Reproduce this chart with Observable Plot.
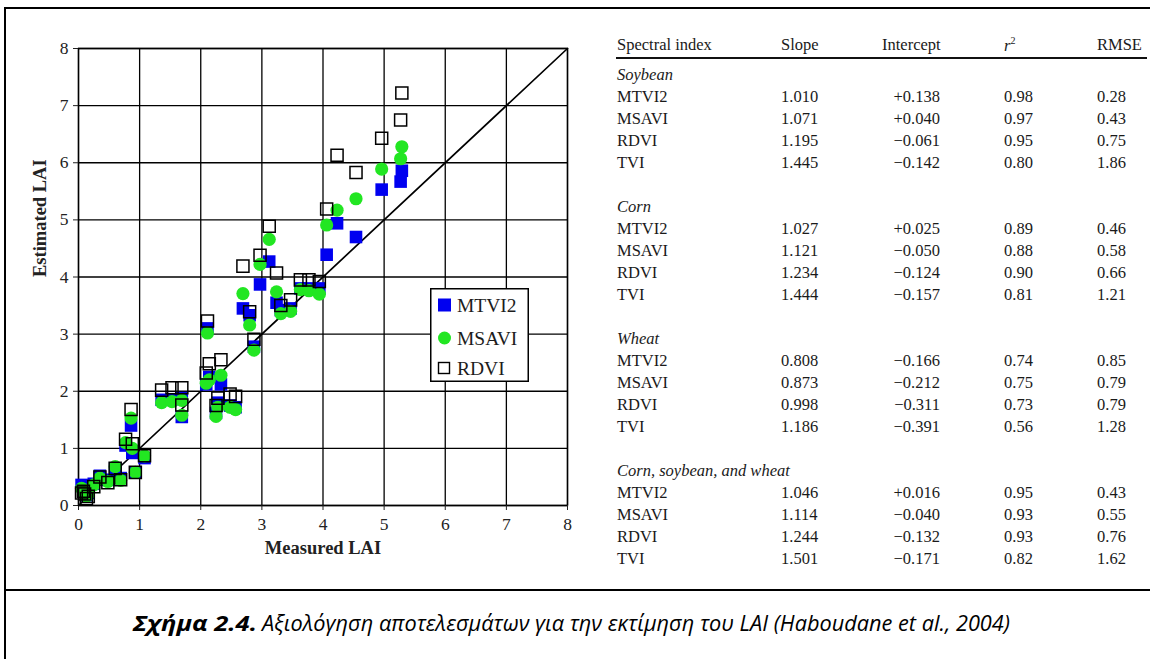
<!DOCTYPE html>
<html>
<head>
<meta charset="utf-8">
<script src="https://cdn.jsdelivr.net/npm/d3@7"></script>
<script src="https://cdn.jsdelivr.net/npm/@observablehq/plot@0.6"></script>
<style>
  html, body { margin: 0; padding: 0; background: #fff; }
  #fig { position: relative; width: 1150px; height: 659px; overflow: hidden; background: #fff; }
  #frame { position: absolute; left: 4px; top: 7px; width: 1160px; height: 670px; border: 2px solid #000; box-sizing: border-box; }
  #sep { position: absolute; left: 4px; top: 589px; width: 1160px; height: 2px; background: #000; }
  #chart { position: absolute; left: 0; top: 0; }
  #legend { position: absolute; left: 430px; top: 288px; }
  #table { position: absolute; left: 0; top: 0; width: 1150px; height: 580px;
           font-family: "Liberation Serif", "DejaVu Serif", serif; font-size: 16.5px; color: #1a1a1a; }
  #table .c { position: absolute; white-space: nowrap; line-height: 1; transform: translateY(-50%); }
  #table .g { font-style: italic; }
  #rule { position: absolute; left: 616px; top: 57px; width: 531px; height: 2.2px; background: #111; }
  .cap { position: absolute; top: 611px; white-space: nowrap; font-family: "Open Sans", sans-serif;
         font-style: italic; font-size: 22px; line-height: 1; color: #000; transform-origin: 0 50%; }
  #capLead { left: 133px; font-weight: bold; }
  #capText { left: 262px; }
</style>
</head>
<body>
<div id="fig">
  <div id="frame"></div>
  <div id="sep"></div>
  <div id="chart"></div>
  <div id="legend"></div>
  <div id="table"><div id="rule"></div></div>
  <div class="cap" id="capLead">Σχήμα 2.4.</div>
  <div class="cap" id="capText">Αξιολόγηση αποτελεσμάτων για την εκτίμηση του LAI (Haboudane et al., 2004)</div>
</div>
<script>
// Measured LAI of each sample and the LAI estimated from three spectral indices
const measuredLAI = [5.29, 5.27, 4.96, 4.54, 4.23, 4.06, 3.12, 2.97, 2.69, 3.24, 3.63, 3.77, 3.94, 3.47, 3.31,
  2.80, 2.11, 2.87, 2.33, 2.14, 2.09, 2.48, 2.57, 2.28, 2.25, 1.36, 1.53, 1.69, 1.69, 0.86, 0.77, 0.88, 1.08,
  0.93, 0.69, 0.48, 0.35, 0.60, 0.25, 0.08, 0.16, 0.10, 0.05, 0.13];
const estMTVI2 = [5.86, 5.67, 5.53, 4.70, 4.94, 4.39, 4.27, 3.87, 3.45, 3.55, 3.80, 3.80, 3.80, 3.45, 3.42,
  3.33, 3.10, 2.78, 2.12, 2.25, 2.12, 1.75, 1.72, 1.80, 1.62, 1.85, 1.86, 1.88, 1.55, 1.40, 1.05, 0.92, 0.83,
  0.58, 0.48, 0.45, 0.52, 0.64, 0.38, 0.33, 0.22, 0.28, 0.36, 0.18];
const estMSAVI = [6.28, 6.07, 5.89, 5.37, 5.17, 4.91, 4.66, 4.22, 3.71, 3.74, 3.78, 3.76, 3.70, 3.40, 3.36,
  3.16, 3.02, 2.72, 2.28, 2.20, 2.14, 1.72, 1.68, 1.72, 1.56, 1.80, 1.82, 1.84, 1.58, 1.53, 1.10, 1.00, 0.87,
  0.58, 0.44, 0.42, 0.48, 0.68, 0.36, 0.28, 0.20, 0.22, 0.30, 0.16];
const estRDVI = [7.22, 6.75, 6.43, 5.83, 6.13, 5.19, 4.89, 4.38, 4.19, 4.07, 3.95, 3.95, 3.92, 3.60, 3.50,
  3.39, 3.23, 2.91, 2.55, 2.48, 2.32, 1.95, 1.91, 1.88, 1.75, 2.02, 2.06, 2.06, 1.76, 1.68, 1.16, 1.08, 0.87,
  0.58, 0.45, 0.40, 0.50, 0.65, 0.33, 0.25, 0.16, 0.20, 0.22, 0.12];

const axisTicks = [0, 1, 2, 3, 4, 5, 6, 7, 8];
const identityLine = [0, 8];

const seriesNames = ["MTVI2", "MSAVI", "RDVI"];
const seriesColors = ["#0000f0", "#22e622", "none"];

// Regression table: groups, indices and their statistics
const tableHeader = ["Spectral index", "Slope", "Intercept", "r", "RMSE"];
const cropGroups = ["Soybean", "Corn", "Wheat", "Corn, soybean, and wheat"];
const indexNames = ["MTVI2", "MSAVI", "RDVI", "TVI"];
const slopeValues = [
  ["1.010", "1.071", "1.195", "1.445"],
  ["1.027", "1.121", "1.234", "1.444"],
  ["0.808", "0.873", "0.998", "1.186"],
  ["1.046", "1.114", "1.244", "1.501"]];
const interceptValues = [
  ["+0.138", "+0.040", "−0.061", "−0.142"],
  ["+0.025", "−0.050", "−0.124", "−0.157"],
  ["−0.166", "−0.212", "−0.311", "−0.391"],
  ["+0.016", "−0.040", "−0.132", "−0.171"]];
const r2Values = [
  ["0.98", "0.97", "0.95", "0.80"],
  ["0.89", "0.88", "0.90", "0.81"],
  ["0.74", "0.75", "0.73", "0.56"],
  ["0.95", "0.93", "0.93", "0.82"]];
const rmseValues = [
  ["0.28", "0.43", "0.75", "1.86"],
  ["0.46", "0.58", "0.66", "1.21"],
  ["0.85", "0.79", "0.79", "1.28"],
  ["0.43", "0.55", "0.76", "1.62"]];

// ---- scatter plot ----
const samples = measuredLAI.map((m, i) => ({m, mtvi2: estMTVI2[i], msavi: estMSAVI[i], rdvi: estRDVI[i]}));

const chart = Plot.plot({
  width: 600,
  height: 580,
  marginLeft: 78,
  marginRight: 33,
  marginTop: 48,
  marginBottom: 75,
  style: {fontFamily: "'Liberation Serif', serif", fontSize: "17.5px", color: "#222", background: "transparent", overflow: "visible"},
  x: {domain: [0, 8]},
  y: {domain: [0, 8]},
  marks: [
    Plot.gridX(axisTicks, {stroke: "#000", strokeOpacity: 1, strokeWidth: 1.3}),
    Plot.gridY(axisTicks, {stroke: "#000", strokeOpacity: 1, strokeWidth: 1.3}),
    Plot.frame({stroke: "#000", strokeWidth: 1.4}),
    Plot.axisX(axisTicks, {tickSize: 5, tickPadding: 7, tickFormat: d3.format("d"), label: null}),
    Plot.axisY(axisTicks, {tickSize: 5, tickPadding: 5, tickFormat: d3.format("d"), label: null}),
    Plot.line(identityLine, {x: d => d, y: d => d, stroke: "#000", strokeWidth: 1.7}),
    Plot.dot(samples, {x: "m", y: "mtvi2", symbol: "square", r: 7.1, fill: seriesColors[0], stroke: "none"}),
    Plot.dot(samples, {x: "m", y: "msavi", symbol: "circle", r: 6.6, fill: seriesColors[1], stroke: "none"}),
    Plot.dot(samples, {x: "m", y: "rdvi", symbol: "square", r: 6.8, fill: "none", stroke: "#000", strokeWidth: 1.5}),
    Plot.text(["Measured LAI"], {frameAnchor: "bottom", dy: 48, fontWeight: "bold", fontSize: 18.5}),
    Plot.text(["Estimated LAI"], {frameAnchor: "left", dx: -38, rotate: -90, fontWeight: "bold", fontSize: 18.5})
  ]
});
document.getElementById("chart").append(chart);

// ---- legend box ----
const lg = d3.select("#legend").append("svg").attr("width", 100).attr("height", 95)
  .style("font-family", "'Liberation Serif', serif").style("font-size", "19.5px");
lg.append("rect").attr("x", 0.75).attr("y", 0.75).attr("width", 97.5).attr("height", 92.5)
  .attr("fill", "#fff").attr("stroke", "#000").attr("stroke-width", 1.5);
seriesNames.forEach((name, i) => {
  const cy = [17, 50, 80][i];
  if (i === 0) lg.append("rect").attr("x", 8).attr("y", cy - 6.5).attr("width", 13).attr("height", 13).attr("fill", seriesColors[0]);
  if (i === 1) lg.append("circle").attr("cx", 14.5).attr("cy", cy).attr("r", 6.5).attr("fill", seriesColors[1]);
  if (i === 2) lg.append("rect").attr("x", 8.5).attr("y", cy - 5.5).attr("width", 11).attr("height", 11).attr("fill", "none").attr("stroke", "#000").attr("stroke-width", 1.4);
  lg.append("text").attr("x", 27).attr("y", cy).attr("dy", "0.35em").attr("fill", "#1c1c1c").text(name);
});

// ---- regression table ----
const table = document.getElementById("table");
function cell(text, x, y, opts = {}) {
  const d = document.createElement("div");
  d.className = "c" + (opts.italic ? " g" : "");
  if (opts.right) d.style.right = (1150 - x) + "px"; else d.style.left = x + "px";
  d.style.top = y + "px";
  d.textContent = text;
  if (opts.sup) {
    d.style.fontStyle = "italic";
    const s = document.createElement("sup");
    s.textContent = opts.sup;
    s.style.fontSize = "10px";
    s.style.verticalAlign = "7px";
    s.style.fontStyle = "normal";
    d.append(s);
  }
  table.append(d);
}
const colX = [617, 781, 940, 1004, 1097];
cell(tableHeader[0], colX[0], 45);
cell(tableHeader[1], colX[1], 45);
cell(tableHeader[2], 882, 45);
cell(tableHeader[3], colX[3], 45, {sup: "2"});
cell(tableHeader[4], colX[4], 45);
cropGroups.forEach((g, gi) => {
  const y0 = 75 + gi * 6 * 22;
  cell(g, colX[0], y0, {italic: true});
  indexNames.forEach((name, k) => {
    const y = y0 + (k + 1) * 22;
    cell(name, colX[0], y);
    cell(slopeValues[gi][k], colX[1], y);
    cell(interceptValues[gi][k], colX[2], y, {right: true});
    cell(r2Values[gi][k], colX[3], y);
    cell(rmseValues[gi][k], colX[4], y);
  });
});

// ---- caption: each part fitted to its span of the line ----
function fitWidth(id, target) {
  const el = document.getElementById(id);
  el.style.transform = `scaleX(${target / el.getBoundingClientRect().width})`;
}
fitWidth("capLead", 124);
fitWidth("capText", 748);
</script>
</body>
</html>
